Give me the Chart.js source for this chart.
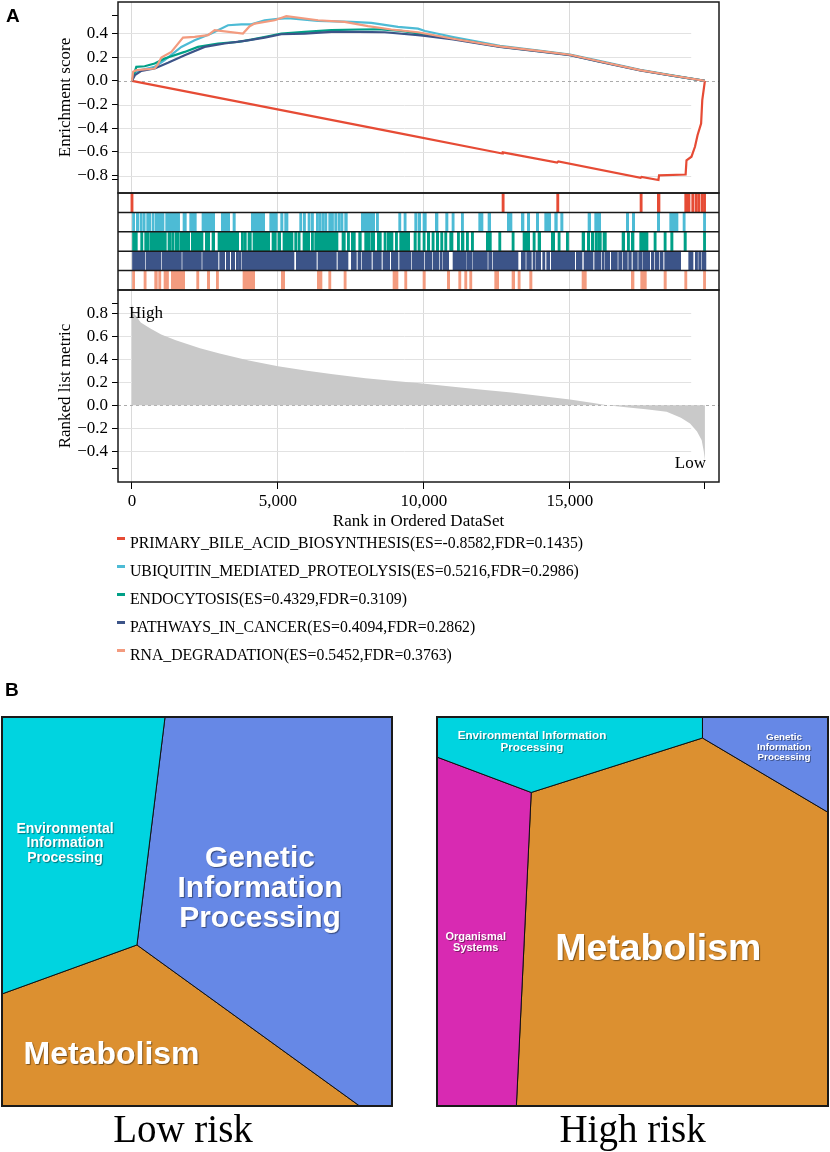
<!DOCTYPE html>
<html><head><meta charset="utf-8">
<script src="https://cdn.jsdelivr.net/npm/chart.js@4.4.1/dist/chart.umd.min.js"></script>
<style>
html,body{margin:0;padding:0;background:#fff;}
body{width:830px;height:1152px;position:relative;overflow:hidden;font-family:"Liberation Serif","Times New Roman",serif;color:#000;}
canvas{position:absolute;}
.abs{position:absolute;white-space:nowrap;}
.panel{font-family:"Liberation Sans",Arial,sans-serif;font-weight:bold;font-size:19px;line-height:19px;}
.leg{font-size:17.5px;line-height:20px;transform:scaleX(0.9);transform-origin:0 50%;}
.dash{position:absolute;width:8px;height:2.5px;}
.tag{font-size:17px;line-height:20px;}
.vl{position:absolute;color:#fff;font-family:"Liberation Sans",Arial,sans-serif;font-weight:bold;text-align:center;transform:translate(-50%,-50%);text-shadow:1px 1px 1px rgba(0,0,0,0.45);white-space:nowrap;}
.cap{font-size:39px;line-height:39px;transform:translateX(-50%);}
</style></head>
<body>
<canvas id="gsea" width="830" height="534" style="left:0;top:0;width:830px;height:534px;"></canvas>
<canvas id="lowRisk" width="394" height="393" style="left:0;top:715px;width:394px;height:393px;"></canvas>
<canvas id="highRisk" width="395" height="393" style="left:435px;top:715px;width:395px;height:393px;"></canvas>

<div class="abs panel" style="left:6px;top:5.6px;">A</div>
<div class="abs panel" style="left:5px;top:680px;">B</div>
<div class="abs tag" style="left:129px;top:302.6px;">High</div>
<div class="abs tag" style="right:124px;top:452.6px;">Low</div>
<div id="legend"></div>

<div class="vl" style="left:65px;top:842.7px;font-size:14px;line-height:14.5px;">Environmental<br>Information<br>Processing</div>
<div class="vl" style="left:260px;top:887px;font-size:30px;line-height:30px;">Genetic<br>Information<br>Processing</div>
<div class="vl" style="left:111.5px;top:1053px;font-size:32px;line-height:32px;">Metabolism</div>
<div class="vl" style="left:532px;top:741px;font-size:11.7px;line-height:11.7px;text-shadow:1px 1px 0.5px rgba(0,0,0,0.4);">Environmental Information<br>Processing</div>
<div class="vl" style="left:784px;top:747px;font-size:9.8px;line-height:9.8px;text-shadow:1px 1px 0.5px rgba(0,0,0,0.4);">Genetic<br>Information<br>Processing</div>
<div class="vl" style="left:475.7px;top:942.2px;font-size:11px;line-height:11px;text-shadow:1px 1px 0.5px rgba(0,0,0,0.4);">Organismal<br>Systems</div>
<div class="vl" style="left:658.3px;top:948.3px;font-size:37.5px;line-height:37.5px;">Metabolism</div>

<div class="abs cap" style="left:183px;top:1109px;">Low risk</div>
<div class="abs cap" style="left:632.5px;top:1109px;">High risk</div>

<script>
// ================= Panel A data =================
const RANK_N = 19620;
const xTickValues = [0, 5000, 10000, 15000];
const esTickValues = [-0.8, -0.6, -0.4, -0.2, 0, 0.2, 0.4];
const esRangeTicks = [-0.836, 0.547];
const rankTickValues = [-0.4, -0.2, 0, 0.2, 0.4, 0.6, 0.8];
const rankRangeTicks = [-0.553, 0.887];

const setNames = ['PRIMARY_BILE_ACID_BIOSYNTHESIS', 'UBIQUITIN_MEDIATED_PROTEOLYSIS', 'ENDOCYTOSIS', 'PATHWAYS_IN_CANCER', 'RNA_DEGRADATION'];
const setES = [-0.8582, 0.5216, 0.4329, 0.4094, 0.5452];
const setFDR = [0.1435, 0.2986, 0.3109, 0.2862, 0.3763];
const setColors = ['#E64B35', '#4DBBD5', '#00A087', '#3C5488', '#F39B7F'];

// running enrichment score [rank, ES]
const esRed = [[0,0],[9179,-0.443],[12680,-0.613],[12700,-0.603],[14560,-0.689],[14600,-0.680],[17420,-0.817],[17450,-0.810],[18030,-0.836],[18050,-0.797],[18960,-0.790],[18990,-0.670],[19160,-0.640],[19280,-0.556],[19370,-0.457],[19490,-0.360],[19530,-0.163],[19620,0]];
const esCyan = [[0,0],[70,0.056],[205,0.084],[776,0.118],[1119,0.174],[1690,0.286],[2146,0.343],[2717,0.399],[3288,0.469],[3744,0.477],[4087,0.477],[4544,0.511],[5000,0.522],[5343,0.528],[6370,0.505],[7512,0.497],[8197,0.489],[9110,0.455],[9795,0.44],[10035,0.42],[11000,0.37],[12600,0.295],[14000,0.252],[15000,0.222],[16000,0.168],[17400,0.092],[18500,0.046],[19620,0]];
const esGreen = [[0,0],[148,0.118],[434,0.123],[776,0.146],[1119,0.188],[1804,0.244],[2260,0.286],[2945,0.315],[3630,0.329],[4087,0.348],[4658,0.376],[5114,0.399],[5914,0.413],[6827,0.427],[7740,0.433],[8425,0.435],[9224,0.421],[9795,0.40],[10035,0.39],[11000,0.355],[12600,0.288],[14000,0.248],[15000,0.218],[16000,0.163],[17400,0.089],[18500,0.044],[19620,0]];
const esNavy = [[0,0],[100,0.048],[320,0.084],[776,0.104],[1233,0.152],[1804,0.216],[2489,0.286],[3174,0.315],[3859,0.337],[4544,0.365],[5114,0.393],[5914,0.399],[6827,0.413],[7740,0.413],[8654,0.41],[9795,0.385],[10035,0.38],[11000,0.35],[12600,0.286],[14000,0.246],[15000,0.216],[16000,0.162],[17400,0.088],[18500,0.043],[19620,0]];
const esSalmon = [[0,0],[40,0.076],[150,0.09],[776,0.104],[868,0.132],[1005,0.197],[1347,0.244],[1747,0.365],[2146,0.371],[2603,0.385],[2831,0.427],[3800,0.399],[4030,0.461],[4201,0.483],[4886,0.511],[5286,0.545],[6370,0.511],[7283,0.497],[8083,0.461],[8882,0.433],[9795,0.41],[11000,0.355],[12600,0.29],[14000,0.25],[15000,0.22],[16000,0.165],[17400,0.09],[18500,0.045],[19620,0]];

// gene-set hits as rank intervals [start, end]
const hitsRed = [[0,60],[12672,12740],[14544,14613],[17398,17467],[17991,18083],[18928,19111],[19168,19225],[19282,19339],[19373,19430],[19487,19545],[19570,19620]];
const hitsCyan = [[0,91],[148,228],[274,342],[377,434],[502,639],[685,753],[799,1096],[1153,1210],[1233,1632],[1747,1861],[1975,2203],[2397,2831],[3059,3345],[3459,3539],[4087,4544],[4715,4977],[5091,5171],[5228,5343],[5742,5776],[5868,5936],[6028,6085],[6142,6199],[6313,6370],[6404,6461],[6507,6576],[6599,6656],[6736,6770],[6827,6884],[6941,6998],[7055,7112],[7147,7227],[7283,7375],[7854,8311],[8368,8425],[9133,9201],[9315,9361],[9681,9738],[9795,9886],[9966,10080],[10389,10480],[10742,10822],[10959,11028],[11279,11336],[11873,12021],[12192,12284],[12854,13014],[13334,13425],[13539,13619],[13848,13928],[14133,14339],[14476,14567],[14681,14761],[15617,15708],[15845,16051],[16930,17010],[17135,17215],[17991,18072],[18414,18699],[18871,18928],[19570,19620]];
const hitsGreen = [[0,183],[297,342],[434,468],[491,571],[605,662],[685,776],[799,833],[868,1176],[1233,1347],[1370,1438],[1484,1598],[1632,1975],[2032,2432],[2512,2660],[2740,2831],[2945,3653],[3744,3801],[3836,3916],[3973,4087],[4144,4715],[4795,4943],[5000,5091],[5171,5514],[5571,5628],[5685,5742],[5856,6085],[6142,6199],[6256,7055],[7192,7306],[7375,7420],[7512,7649],[7763,7854],[7968,8140],[8174,8311],[8402,8539],[8630,8688],[8745,8939],[9019,9087],[9167,9509],[9658,9738],[9795,9852],[9966,10023],[10115,10195],[10274,10343],[10423,10503],[10571,10617],[10708,10765],[10880,10994],[11142,11188],[11279,11370],[11450,11507],[11622,11679],[12135,12307],[12558,12626],[13014,13049],[13391,13619],[13734,13791],[13905,13996],[14361,14476],[14589,14647],[14875,14932],[15412,15503],[15594,15674],[15731,15822],[15868,15902],[15959,16074],[16131,16245],[16782,16873],[16964,17010],[17101,17193],[17387,17672],[17877,17923],[18220,18266],[18449,18528],[18905,18985],[19570,19620]];
const hitsNavy = [[0,434],[479,982],[1027,1690],[1735,2375],[2420,2945],[3002,3174],[3231,3345],[3402,3516],[3573,3607],[3653,3722],[3767,5548],[5628,6313],[6370,6998],[7055,7398],[7512,7683],[7740,7831],[7877,8197],[8254,8539],[8596,8825],[8882,9110],[9167,9544],[9589,10000],[10046,10274],[10320,10503],[10548,10617],[10663,10845],[10994,11450],[11485,11644],[11679,12170],[12215,12329],[12375,13220],[13334,13471],[13517,13676],[13734,13791],[13848,13996],[14065,14133],[14202,14304],[14361,15160],[15218,15412],[15480,15788],[15845,16051],[16097,16165],[16211,16359],[16416,16622],[16667,16782],[16827,16964],[17010,17101],[17158,17307],[17352,17467],[17501,17729],[17786,17877],[17923,18037],[18083,18186],[18243,18791],[19065,19213],[19293,19362],[19407,19476],[19521,19556],[19580,19620]];
const hitsSalmon = [[0,91],[411,479],[776,868],[913,982],[1096,1142],[1176,1233],[1347,1804],[2215,2283],[2580,2660],[2888,2945],[3801,4201],[5114,5228],[6347,6507],[6736,6804],[7261,7329],[8939,9110],[9338,9407],[9966,10046],[10800,10880],[11188,11256],[11393,11450],[11564,11622],[12421,12558],[13014,13106],[13220,13277],[13619,13699],[15412,15560],[17101,17193],[17421,17615],[18220,18300],[18928,18985],[19570,19620]];

// ranked list metric [rank, value]
const rankedMetric = [[0,0.88],[60,0.80],[160,0.77],[300,0.72],[616,0.67],[1000,0.615],[1500,0.565],[2329,0.495],[3000,0.45],[4000,0.39],[5000,0.34],[6000,0.30],[6884,0.27],[8000,0.235],[9000,0.21],[9864,0.19],[11000,0.16],[12000,0.135],[13000,0.11],[14000,0.08],[15000,0.05],[15800,0.02],[16270,0],[17000,-0.02],[17600,-0.035],[18310,-0.058],[18800,-0.11],[19110,-0.16],[19350,-0.23],[19510,-0.305],[19580,-0.40],[19620,-0.48]];

// ================= Panel B data (Voronoi cells, box units 0..100, y downwards) =================
const catColors = {
  'Environmental Information Processing': '#00D4E0',
  'Genetic Information Processing': '#6688E6',
  'Metabolism': '#DC9030',
  'Organismal Systems': '#D82AB2'
};
const lowRiskCategories = ['Environmental Information Processing', 'Genetic Information Processing', 'Metabolism'];
const lowRiskCells = [
  [[0,0],[41.8,0],[34.6,58.6],[0,71.2]],
  [[41.8,0],[100,0],[100,100],[91.7,100],[34.6,58.6]],
  [[0,71.2],[34.6,58.6],[91.7,100],[0,100]]
];
const highRiskCategories = ['Environmental Information Processing', 'Genetic Information Processing', 'Organismal Systems', 'Metabolism'];
const highRiskCells = [
  [[0,0],[67.9,0],[67.9,5.4],[24.1,19.4],[0,10.3]],
  [[67.9,0],[100,0],[100,24.5],[67.9,5.4]],
  [[0,10.3],[24.1,19.4],[20.3,100],[0,100]],
  [[24.1,19.4],[67.9,5.4],[100,24.5],[100,100],[20.3,100]]
];

// ================= rendering =================
const SERIF = '"Liberation Serif","Times New Roman",serif';
const GRID_END = 19150;
const fmt = v => v.toFixed(1).replace('-', '\u2212');
const zeroPad = s => { s.paddingTop = 0; s.paddingBottom = 0; s.paddingLeft = 0; s.paddingRight = 0; };
const near = (a, b) => Math.abs(a - b) < 1e-6;

// legend (HTML text)
(function () {
  const box = document.getElementById('legend');
  setNames.forEach((n, i) => {
    const base = 547.5 + i * 28;
    const d = document.createElement('div');
    d.className = 'dash';
    d.style.left = '117px'; d.style.top = (base - 10.2) + 'px'; d.style.background = setColors[i];
    box.appendChild(d);
    const t = document.createElement('div');
    t.className = 'abs leg';
    t.style.left = '130px'; t.style.top = (base - 15.9) + 'px';
    t.textContent = n + '(ES=' + setES[i].toFixed(4) + ',FDR=' + setFDR[i].toFixed(4) + ')';
    box.appendChild(t);
  });
})();

const gseaDecor = {
  id: 'gseaDecor',
  beforeDatasetsDraw(chart) {
    const {ctx, chartArea, scales} = chart;
    const xEnd = scales.x.getPixelForValue(GRID_END);
    ctx.save();
    ctx.lineWidth = 1;
    ctx.strokeStyle = '#e2e2e2';
    [['yES', esTickValues], ['yRank', rankTickValues]].forEach(([id, vals]) => {
      const s = scales[id];
      vals.forEach(v => {
        if (v === 0) return;
        const y = Math.round(s.getPixelForValue(v)) + 0.5;
        ctx.beginPath(); ctx.moveTo(chartArea.left, y); ctx.lineTo(xEnd, y); ctx.stroke();
      });
    });
    ctx.strokeStyle = '#ababab';
    ctx.setLineDash([3, 3]);
    ['yES', 'yRank'].forEach(id => {
      const y = Math.round(scales[id].getPixelForValue(0)) + 0.5;
      ctx.beginPath(); ctx.moveTo(chartArea.left, y); ctx.lineTo(chartArea.right, y); ctx.stroke();
    });
    ctx.restore();
  },
  afterDatasetsDraw(chart) {
    const {ctx, chartArea, scales} = chart;
    ctx.save();
    ctx.strokeStyle = '#1a1a1a';
    ctx.lineWidth = 1.5;
    ['yES', 'yHit', 'yRank'].forEach(id => {
      const s = scales[id];
      ctx.strokeRect(chartArea.left, s.top, chartArea.right - chartArea.left, s.bottom - s.top);
    });
    const h = scales.yHit;
    for (let r = 1; r < setNames.length; r++) {
      const y = h.getPixelForValue(r);
      ctx.beginPath(); ctx.moveTo(chartArea.left, y); ctx.lineTo(chartArea.right, y); ctx.stroke();
    }
    ctx.restore();
  }
};

const esSeries = [esRed, esCyan, esGreen, esNavy, esSalmon];
const hitSeries = [hitsRed, hitsCyan, hitsGreen, hitsNavy, hitsSalmon];
const drawOrder = [5, 4, 3, 2, 1];
const datasets = [];
esSeries.forEach((s, i) => datasets.push({
  type: 'line', data: s, xAxisID: 'x', yAxisID: 'yES',
  borderColor: setColors[i], borderWidth: 2.2, pointRadius: 0, fill: false, tension: 0, order: drawOrder[i]
}));
hitSeries.forEach((s, i) => datasets.push({
  type: 'bar', indexAxis: 'y', data: s.map(h => ({x: h, y: setNames.length - 0.5 - i})),
  xAxisID: 'x', yAxisID: 'yHit', backgroundColor: setColors[i], borderWidth: 0,
  grouped: false, barPercentage: 1, categoryPercentage: 1, minBarLength: 2.2, order: 10
}));
datasets.push({
  type: 'line', data: rankedMetric, xAxisID: 'x', yAxisID: 'yRank',
  borderWidth: 0, borderColor: 'rgba(0,0,0,0)', backgroundColor: '#c9c9c9', fill: 'origin', pointRadius: 0, tension: 0, order: 20
});

const tickFont = {family: SERIF, size: 17};
function yAxis(opts) {
  return Object.assign({
    type: 'linear', position: 'left', stack: 'gsea', offset: false,
    afterFit: s => { s.width = 63; zeroPad(s); },
    border: {display: false}
  }, opts);
}

new Chart(document.getElementById('gsea'), {
  type: 'line',
  data: {datasets},
  options: {
    responsive: false, animation: false, events: [],
    layout: {padding: {left: 55, right: 111, top: 2, bottom: 0}, autoPadding: false},
    plugins: {legend: {display: false}, tooltip: {enabled: false}},
    scales: {
      x: {
        type: 'linear', position: 'bottom', min: -479, max: 20103, offset: false,
        afterBuildTicks: s => { s.ticks = xTickValues.concat([RANK_N]).map(v => ({value: v})); },
        afterFit: s => { s.height = 52; zeroPad(s); },
        ticks: {font: tickFont, color: '#000', padding: 2, maxRotation: 0, autoSkip: false,
          callback: v => v === RANK_N ? '' : v.toLocaleString('en-US')},
        grid: {color: c => (c.tick && c.tick.value === RANK_N) ? 'rgba(0,0,0,0)' : '#dadada',
          tickColor: '#000', tickLength: 7, lineWidth: 1, offset: false},
        border: {display: false},
        title: {display: true, text: 'Rank in Ordered DataSet', font: tickFont, color: '#000', padding: {top: 0, bottom: 2}}
      },
      yES: yAxis({
        stackWeight: 191, weight: 3, min: -0.946, max: 0.665,
        afterBuildTicks: s => { s.ticks = esTickValues.concat(esRangeTicks).sort((a, b) => a - b).map(v => ({value: v})); },
        ticks: {font: tickFont, color: '#000', padding: 4, autoSkip: false,
          callback: v => esRangeTicks.some(r => near(r, v)) ? '' : fmt(v)},
        grid: {drawOnChartArea: false, tickColor: '#000', tickLength: 6},
        title: {display: true, text: 'Enrichment score', font: tickFont, color: '#000', padding: {top: 0, bottom: 0}}
      }),
      yHit: yAxis({
        stackWeight: 97, weight: 2, min: 0, max: setNames.length,
        afterBuildTicks: s => { s.ticks = [0, 1, 2, 3, 4, 5].map(v => ({value: v})); },
        ticks: {display: false},
        grid: {display: false, offset: false}
      }),
      yRank: yAxis({
        stackWeight: 192, weight: 1, min: -0.669, max: 1.003,
        afterBuildTicks: s => { s.ticks = rankTickValues.concat(rankRangeTicks).sort((a, b) => a - b).map(v => ({value: v})); },
        ticks: {font: tickFont, color: '#000', padding: 4, autoSkip: false,
          callback: v => rankRangeTicks.some(r => near(r, v)) ? '' : fmt(v)},
        grid: {drawOnChartArea: false, tickColor: '#000', tickLength: 6},
        title: {display: true, text: 'Ranked list metric', font: tickFont, color: '#000', padding: {top: 0, bottom: 0}}
      })
    }
  },
  plugins: [gseaDecor]
});

// ---- Voronoi treemaps ----
const frame = {
  id: 'frame',
  afterDatasetsDraw(chart) {
    const {ctx, chartArea: a} = chart;
    ctx.save();
    ctx.strokeStyle = '#1a1a1a'; ctx.lineWidth = 2;
    ctx.strokeRect(a.left, a.top, a.right - a.left, a.bottom - a.top);
    ctx.restore();
  }
};
function voronoi(id, cells, cats) {
  new Chart(document.getElementById(id), {
    type: 'scatter',
    data: {datasets: cells.map((poly, i) => ({
      data: poly.concat([poly[0]]),
      showLine: true, fill: 'shape', tension: 0, pointRadius: 0,
      backgroundColor: catColors[cats[i]], borderColor: '#111', borderWidth: 1
    }))},
    options: {
      responsive: false, animation: false, events: [],
      layout: {padding: 2, autoPadding: false},
      plugins: {legend: {display: false}, tooltip: {enabled: false}},
      scales: {
        x: {type: 'linear', min: 0, max: 100, display: false},
        y: {type: 'linear', min: 0, max: 100, reverse: true, display: false}
      }
    },
    plugins: [frame]
  });
}
voronoi('lowRisk', lowRiskCells, lowRiskCategories);
voronoi('highRisk', highRiskCells, highRiskCategories);
</script>
</body></html>
